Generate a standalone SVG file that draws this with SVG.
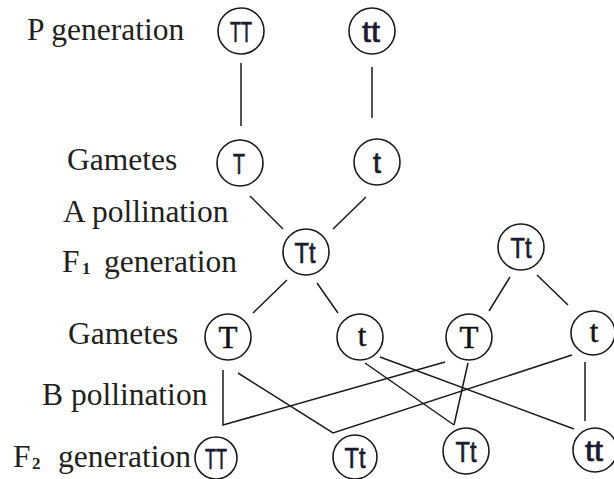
<svg xmlns="http://www.w3.org/2000/svg" width="614" height="479" viewBox="0 0 614 479">
<style>
.lbl{font-family:"Liberation Serif","Times New Roman",serif;font-size:31.5px;fill:#231f20}
.sub{font-family:"Liberation Serif","Times New Roman",serif;font-size:17px;font-weight:bold;fill:#231f20}
.n circle{fill:#fff;stroke:#1a1a1a;stroke-width:1.6}
.g{font-family:"Liberation Sans",Arial,sans-serif;font-size:30px;fill:#1c1c2e;stroke:#1c1c2e;stroke-width:0.7;text-anchor:middle}
.s{font-family:"Liberation Serif","Times New Roman",serif;font-size:31px;fill:#111;stroke:#111;stroke-width:0.5;text-anchor:middle}
.c line,.c polyline{stroke:#1a1a1a;stroke-width:1.5;fill:none}
</style>
<rect width="614" height="479" fill="#fff"/>
<g id="labels">
<text class="lbl" x="27" y="40">P generation</text>
<text class="lbl" x="67" y="170">Gametes</text>
<text class="lbl" x="63" y="222">A pollination</text>
<text class="lbl" x="62" y="272">F</text><text class="sub" x="82" y="274">1</text><text class="lbl" x="104" y="272">generation</text>
<text class="lbl" x="68" y="344">Gametes</text>
<text class="lbl" x="42" y="405">B pollination</text>
<text class="lbl" x="13" y="467">F</text><text class="sub" x="32" y="469">2</text><text class="lbl" x="58" y="467">generation</text>
</g>
<g id="connectors" class="c">
<line x1="241" y1="63" x2="241" y2="126"/>
<line x1="372" y1="67" x2="372" y2="118"/>
<line x1="250" y1="196" x2="283" y2="229"/>
<line x1="366" y1="197" x2="333" y2="229"/>
<line x1="287" y1="280" x2="253" y2="313"/>
<line x1="317" y1="283" x2="338" y2="313"/>
<line x1="510" y1="277" x2="489" y2="311"/>
<line x1="537" y1="275" x2="568" y2="305"/>
<polyline points="223,370 223,425 445,362"/>
<polyline points="238,373 333,433 572,355"/>
<line x1="365" y1="363" x2="454" y2="425"/>
<line x1="380" y1="357" x2="574" y2="429"/>
<line x1="468" y1="363" x2="454" y2="425"/>
<line x1="585" y1="362" x2="585" y2="421"/>
</g>
<g id="P_TT" class="n"><circle cx="241" cy="31" r="23"/><text class="g" x="241" y="42" textLength="22" lengthAdjust="spacingAndGlyphs">TT</text></g>
<g id="P_tt" class="n"><circle cx="372" cy="31" r="23"/><text class="g" x="371" y="42" textLength="18" lengthAdjust="spacingAndGlyphs">tt</text></g>
<g id="G1_T" class="n"><circle cx="240" cy="163" r="23"/><text class="g" x="239" y="174" textLength="12" lengthAdjust="spacingAndGlyphs">T</text></g>
<g id="G1_t" class="n"><circle cx="377" cy="162" r="23"/><text class="g" x="377" y="173" textLength="8" lengthAdjust="spacingAndGlyphs">t</text></g>
<g id="F1_Tt" class="n"><circle cx="306" cy="252" r="23"/><text class="g" x="305" y="263" textLength="21" lengthAdjust="spacingAndGlyphs">Tt</text></g>
<g id="F1_Tt_b" class="n"><circle cx="521" cy="247" r="23"/><text class="g" x="521" y="258" textLength="21" lengthAdjust="spacingAndGlyphs">Tt</text></g>
<g id="G2_T" class="n"><circle cx="228" cy="337" r="23"/><text class="s" x="228" y="348">T</text></g>
<g id="G2_t" class="n"><circle cx="360" cy="337" r="23"/><text class="s" x="362" y="346">t</text></g>
<g id="G2_T2" class="n"><circle cx="469" cy="337" r="23"/><text class="s" x="469" y="348">T</text></g>
<g id="G2_t2" class="n"><circle cx="593" cy="333" r="22"/><text class="s" x="594" y="342">t</text></g>
<g id="F2_TT" class="n"><circle cx="216" cy="458" r="21"/><text class="g" x="216" y="469" textLength="22" lengthAdjust="spacingAndGlyphs">TT</text></g>
<g id="F2_Tt" class="n"><circle cx="355" cy="457" r="22"/><text class="g" x="355" y="468" textLength="21" lengthAdjust="spacingAndGlyphs">Tt</text></g>
<g id="F2_Tt2" class="n"><circle cx="466" cy="451" r="23"/><text class="g" x="466" y="462" textLength="21" lengthAdjust="spacingAndGlyphs">Tt</text></g>
<g id="F2_tt" class="n"><circle cx="595" cy="450" r="22"/><text class="g" x="594" y="461" textLength="18" lengthAdjust="spacingAndGlyphs">tt</text></g>
</svg>
